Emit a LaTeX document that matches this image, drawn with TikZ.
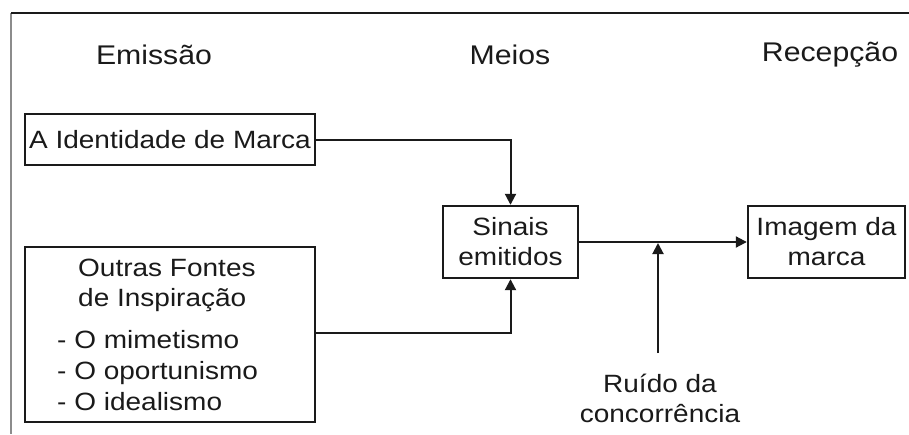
\documentclass[tikz,border=0pt]{standalone}
\usepackage{fontspec}
\setmainfont{Liberation Sans}[FakeStretch=1.12]
\usetikzlibrary{arrows.meta}
\definecolor{ink}{HTML}{1A1A1A}
\definecolor{framegray}{HTML}{8C8C8C}
\tikzset{
  boxnode/.style={draw=ink, line width=2.4pt, inner sep=0pt, text=ink},
  head/.style={font=\fontsize{27}{30}\selectfont, text=ink, inner sep=0pt},
  body/.style={font=\fontsize{25}{30}\selectfont, text=ink, inner sep=0pt, align=center},
  conn/.style={draw=ink, line width=2pt},
  arr/.style={conn, -{Triangle[length=11pt,width=11pt]}}
}
\begin{document}
\begin{tikzpicture}[x=1pt,y=-1pt]
\useasboundingbox (0,0) rectangle (909,434);
% outer frame
\draw[framegray, line width=2pt] (11,13) -- (11,434);
\draw[ink, line width=2pt] (11,13) -- (909,13);
% headers
\node[head] (emissao) at (154,55) {Emissão};
\node[head] (meios) at (510,55) {Meios};
\node[head] (recepcao) at (830,55) {Recepção};
% boxes
\node[boxnode, minimum width=290pt, minimum height=51pt, body] (ident) at (170,139.5) {A Identidade de Marca};
\node[boxnode, minimum width=290pt, minimum height=175pt] (outras) at (170,334.5) {};
\node[body, anchor=west, align=left] (otit) at (78,285) {Outras Fontes\\de Inspiração};
\node[body, anchor=west, align=left] (oitems) at (57,371) {- O mimetismo\\[1pt]- O oportunismo\\[1pt]- O idealismo};
\node[boxnode, minimum width=135pt, minimum height=72pt, body] (sinais) at (510.5,242) {Sinais\\emitidos};
\node[boxnode, minimum width=157pt, minimum height=72pt, body] (imagem) at (826.5,242) {Imagem da\\marca};
\node[body] (ruido) at (660,398) {Ruído da\\concorrência};
% connectors
\coordinate (jn) at (658,243);
\coordinate (nz) at (658,353);
\draw[arr] (ident.east) -- (sinais.north |- ident.east) -- (sinais.north);
\draw[arr] (outras.east |- 0,333) -- (sinais.south |- 0,333) -- (sinais.south);
\draw[arr] (sinais.east) -- (imagem.west);
\draw[arr] (nz) -- (jn);
\end{tikzpicture}
\end{document}
